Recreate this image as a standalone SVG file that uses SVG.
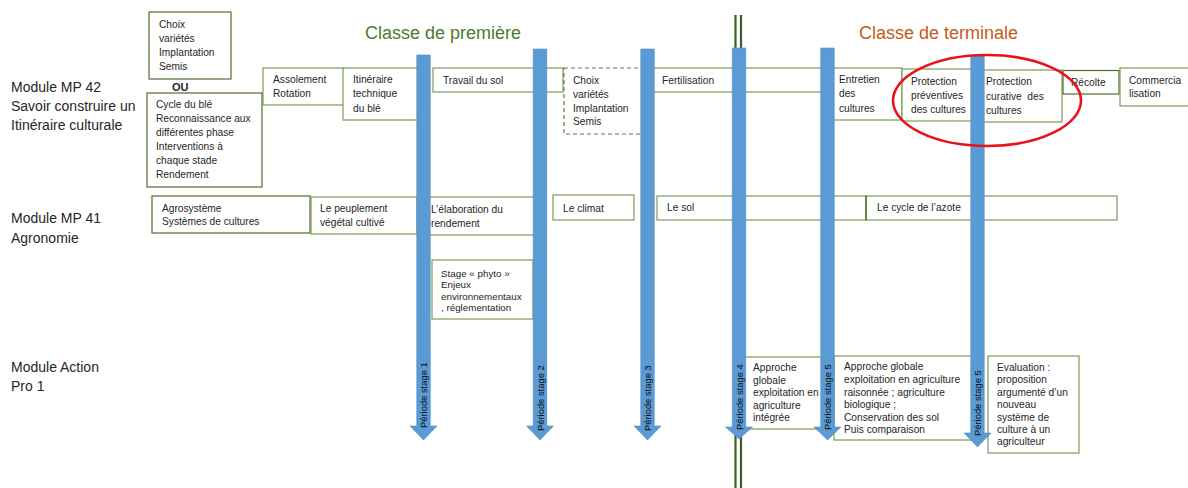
<svg xmlns="http://www.w3.org/2000/svg" width="1188" height="488" viewBox="0 0 1188 488">
<style>
text{font-family:"Liberation Sans",Arial,sans-serif;fill:#262626}
.box{fill:#fff;stroke:#7a9a58;stroke-width:1.2}
.dark{stroke:#4f6f2f}
.dash{fill:#fff;stroke:#5a7f3a;stroke-width:1.2;stroke-dasharray:4 3}
.t{font-size:10.2px}
.ts{font-size:9.8px}
.mod{font-size:14px}
.arr{fill:#5b9bd5;stroke:#4f8cc6;stroke-width:0.6}
.lab{font-size:9.4px;fill:#0d0d0d}
.gl{stroke:#3b5e22;stroke-width:2.2}
</style>
<rect width="1188" height="488" fill="#fff"/>

<g id="titles">
<text x="365" y="39" style="font-size:18px;fill:#4e7a2c">Classe de première</text>
<text x="859" y="39" style="font-size:18px;fill:#c55a1a">Classe de terminale</text>
</g>

<g id="module-labels">
<text class="mod" x="11" y="92">Module MP 42</text>
<text class="mod" x="11" y="111">Savoir construire un</text>
<text class="mod" x="11" y="130">Itinéraire culturale</text>
<text class="mod" x="11" y="223">Module MP 41</text>
<text class="mod" x="11" y="243">Agronomie</text>
<text class="mod" x="11" y="372">Module Action</text>
<text class="mod" x="11" y="391">Pro 1</text>
</g>

<g id="separator">
<line class="gl" x1="735.5" y1="15" x2="735.5" y2="488"/>
<line class="gl" x1="741" y1="15" x2="741" y2="488"/>
</g>

<!-- Row MP 42 -->
<g id="n-choix-1"><rect class="box dark" x="149" y="12" width="82" height="67"/>
<text class="t" x="159" y="28">Choix</text><text class="t" x="159" y="42">variétés</text><text class="t" x="159" y="56">Implantation</text><text class="t" x="159" y="70">Semis</text></g>
<g id="n-ou"><text x="172" y="91" style="font-size:11px;font-weight:bold">OU</text></g>
<g id="n-cycle-ble"><rect class="box dark" x="147" y="93" width="115" height="94"/>
<text class="t" x="156" y="108">Cycle du blé</text><text class="t" x="156" y="122">Reconnaissance aux</text><text class="t" x="156" y="136">différentes phase</text><text class="t" x="156" y="150">Interventions à</text><text class="t" x="156" y="164">chaque stade</text><text class="t" x="156" y="178">Rendement</text></g>
<g id="n-assolement"><rect class="box" x="263" y="68" width="81" height="37"/>
<text class="t" x="273" y="83">Assolement</text><text class="t" x="273" y="97">Rotation</text></g>
<g id="n-itineraire"><rect class="box" x="343" y="68" width="76" height="52"/>
<text class="t" x="353" y="83">Itinéraire</text><text class="t" x="353" y="97">technique</text><text class="t" x="353" y="112">du blé</text></g>
<g id="n-travail"><rect class="box" x="433" y="68" width="130" height="24"/>
<text class="t" x="443" y="84">Travail du sol</text></g>
<g id="n-choix-2"><rect class="dash" x="564" y="68" width="82" height="66"/>
<text class="t" x="573" y="84">Choix</text><text class="t" x="573" y="98">variétés</text><text class="t" x="573" y="112">Implantation</text><text class="t" x="573" y="125">Semis</text></g>
<g id="n-fertilisation"><rect class="box" x="648" y="68" width="178" height="24"/>
<text class="t" x="662" y="84">Fertilisation</text></g>
<g id="n-entretien"><rect class="box" x="830" y="68" width="72" height="52"/>
<text class="t" x="839" y="83">Entretien</text><text class="t" x="839" y="97">des</text><text class="t" x="839" y="112">cultures</text></g>
<g id="n-prot-prev"><rect class="box" x="902" y="69" width="75" height="52"/>
<text class="t" x="911" y="85">Protection</text><text class="t" x="911" y="99">préventives</text><text class="t" x="911" y="113">des cultures</text></g>
<g id="n-prot-cur"><rect class="box" x="978" y="70" width="84" height="52"/>
<text class="t" x="986" y="85">Protection</text><text class="t" x="986" y="100">curative&#160; des</text><text class="t" x="986" y="114">cultures</text></g>
<g id="n-recolte"><rect class="box dark" x="1063" y="70.5" width="56" height="23.5"/>
<text class="t" x="1071" y="86">Récolte</text></g>
<g id="n-commercia"><rect class="box" x="1120" y="68" width="70" height="38"/>
<text class="t" x="1129" y="84">Commercia</text><text class="t" x="1129" y="97">lisation</text></g>

<!-- Row MP 41 -->
<g id="n-agrosysteme"><rect class="box dark" x="152" y="196" width="158" height="37"/>
<text class="t" x="162" y="212">Agrosystème</text><text class="t" x="162" y="225">Systèmes de cultures</text></g>
<g id="n-peuplement"><rect class="box" x="311" y="197" width="106" height="37"/>
<text class="t" x="320" y="212">Le peuplement</text><text class="t" x="320" y="226">végétal cultivé</text></g>
<g id="n-elaboration"><rect class="box" x="420" y="197" width="118" height="38"/>
<text class="t" x="431" y="213">L’élaboration du</text><text class="t" x="431" y="227">rendement</text></g>
<g id="n-climat"><rect class="box" x="553" y="195" width="81" height="25"/>
<text class="t" x="563" y="212">Le climat</text></g>
<g id="n-sol"><rect class="box" x="657" y="196" width="209" height="24"/>
<text class="t" x="667" y="211">Le sol</text></g>
<g id="n-azote"><rect class="box" x="866" y="196" width="251" height="24"/>
<line x1="866" y1="196" x2="866" y2="220" stroke="#4f6f2f" stroke-width="1.4"/>
<text class="t" x="877" y="211">Le cycle de l’azote</text></g>
<g id="n-phyto"><rect class="box" x="432" y="260" width="101" height="59"/>
<text class="ts" x="441" y="277">Stage « phyto »</text><text class="ts" x="441" y="288">Enjeux</text><text class="ts" x="441" y="300">environnementaux</text><text class="ts" x="441" y="311">, réglementation</text></g>

<!-- Row Action Pro -->
<g id="n-approche-1"><rect class="box" x="742" y="357" width="84" height="72"/>
<text class="t" x="753" y="371">Approche</text><text class="t" x="753" y="384">globale</text><text class="t" x="753" y="396">exploitation en</text><text class="t" x="753" y="409">agriculture</text><text class="t" x="753" y="421">intégrée</text></g>
<g id="n-approche-2"><rect class="box" x="834" y="356" width="141" height="84"/>
<text class="t" x="844" y="370">Approche globale</text><text class="t" x="844" y="383">exploitation en agriculture</text><text class="t" x="844" y="396">raisonnée ; agriculture</text><text class="t" x="844" y="408">biologique ;</text><text class="t" x="844" y="421">Conservation des sol</text><text class="t" x="844" y="433">Puis comparaison</text></g>
<g id="n-evaluation"><rect class="box" x="988" y="356" width="91" height="97"/>
<text class="t" x="997" y="371">Evaluation :</text><text class="t" x="997" y="383">proposition</text><text class="t" x="997" y="396">argumenté d’un</text><text class="t" x="997" y="408">nouveau</text><text class="t" x="997" y="421">système de</text><text class="t" x="997" y="433">culture à un</text><text class="t" x="997" y="445">agriculteur</text></g>

<g id="connectors">
<g id="stage-1"><path class="arr" d="M416.75,55 H430.25 V426 H437 L423.5,440 L410,426 H416.75 Z"/>
<text class="lab" transform="translate(427,428) rotate(-90)">Période stage 1</text></g>
<g id="stage-2"><path class="arr" d="M533.25,49 H546.75 V426 H553.5 L540,440 L526.5,426 H533.25 Z"/>
<text class="lab" transform="translate(543.5,431) rotate(-90)">Période stage 2</text></g>
<g id="stage-3"><path class="arr" d="M640.75,49 H654.25 V426 H661 L647.5,440 L634,426 H640.75 Z"/>
<text class="lab" transform="translate(651,431) rotate(-90)">Période stage 3</text></g>
<g id="stage-4"><path class="arr" d="M732.25,48 H745.75 V427 H752.5 L739,439 L725.5,427 H732.25 Z"/>
<text class="lab" transform="translate(742.5,430) rotate(-90)">Période stage 4</text></g>
<g id="stage-5a"><path class="arr" d="M820.75,48 H834.25 V427 H841 L827.5,440 L814,427 H820.75 Z"/>
<text class="lab" transform="translate(831,430) rotate(-90)">Période stage 5</text></g>
<g id="stage-5b"><path class="arr" d="M970.75,56 H984.25 V433 H991 L977.5,447 L964,433 H970.75 Z"/>
<text class="lab" transform="translate(981,436) rotate(-90)">Période stage 5</text></g>
</g>

<g id="highlight">
<ellipse cx="987" cy="100.5" rx="94" ry="45.5" fill="none" stroke="#e8121a" stroke-width="2.6"/>
</g>
</svg>
